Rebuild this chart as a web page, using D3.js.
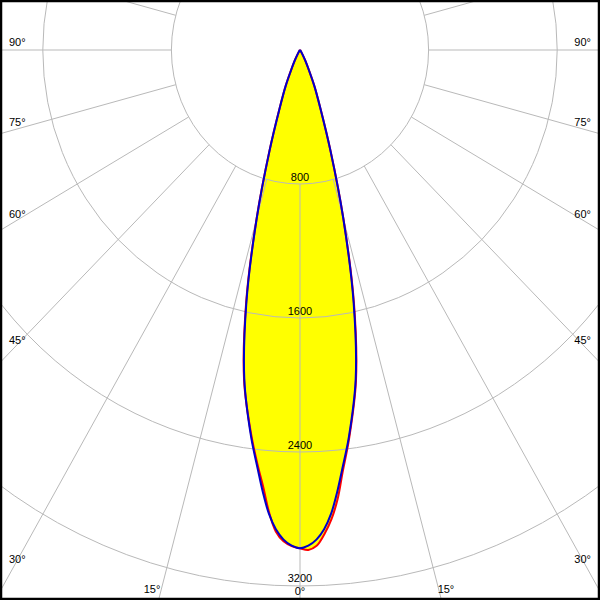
<!DOCTYPE html>
<html><head><meta charset="utf-8">
<script src="https://cdn.jsdelivr.net/npm/d3@7"></script>
<style>
body{margin:0;background:#fff}
svg{display:block}
text{font-family:"Liberation Sans",Arial,sans-serif;font-size:11px;fill:#000}
</style>
</head><body>
<svg id="chart" width="600" height="600"></svg>
<script>
// ---- data (cd) ----
const gammaAngles = [0,1,2,3,4,5,6,7.5,10,12.5,15,17.5,20,22.5,25,27.5,30,35,40,45,60,75,90];
// C90/C270 plane (blue), symmetric
const planeC90 = [2975,2960,2925,2865,2775,2650,2515,2330,1995,1540,1040,630,370,235,125,70,35,12,4,0,0,0,0];
// C0 plane (red, right half)
const planeC0  = [2975,2985,2962,2895,2808,2690,2535,2340,2005,1552,1045,632,372,236,126,70,35,12,4,0,0,0,0];
// C180 plane (red, left half)
const planeC180= [2975,2962,2935,2878,2765,2620,2500,2320,2003,1550,1045,632,372,236,126,70,35,12,4,0,0,0,0];
const ringValues = [800,1600,2400,3200];
const spokeAngles = [0,15,30,45,60,75,90,105];
const sideLabelAngles = [30,45,60,75,90];
const bottomLabelAngles = [15];

// ---- layout ----
const W = 600, H = 600, cx = 300, cy = 50;
const kx = d3.scaleLinear().domain([0,800]).range([0,128.6]);
const ky = d3.scaleLinear().domain([0,800]).range([0,134]);
const rad = d => d*Math.PI/180;
const px = (a,v) => cx + kx(v)*Math.sin(rad(a));
const py = (a,v) => cy + ky(v)*Math.cos(rad(a));

const svg = d3.select("#chart");
svg.append("defs").append("clipPath").attr("id","clip")
  .append("rect").attr("x",0).attr("y",0).attr("width",W).attr("height",H);
const g = svg.append("g").attr("clip-path","url(#clip)");

function seriesPoints(left, right){
  const pts = [];
  let startL = left.findIndex(v => v===0); if (startL<0) startL = left.length-1;
  for (let i=startL;i>=1;i--) pts.push([-gammaAngles[i], left[i]]);
  let endR = right.findIndex(v => v===0); if (endR<0) endR = right.length-1;
  for (let i=0;i<=endR;i++) pts.push([gammaAngles[i], right[i]]);
  return pts;
}
const line = d3.line().x(d=>px(d[0],d[1])).y(d=>py(d[0],d[1])).curve(d3.curveCatmullRom.alpha(0.5));
const redPts = seriesPoints(planeC180, planeC0);
const bluePts = seriesPoints(planeC90, planeC90);

// fills
g.append("path").attr("d", line(redPts)+"Z").attr("fill","#ffff00").attr("stroke","none");
g.append("path").attr("d", line(bluePts)+"Z").attr("fill","#ffff00").attr("stroke","none");

// grid rings
const gridColor = "#b9b9b9";
g.selectAll("ellipse.ring").data(ringValues).join("ellipse")
  .attr("cx",cx).attr("cy",cy).attr("rx",d=>kx(d)).attr("ry",d=>ky(d))
  .attr("fill","none").attr("stroke",gridColor).attr("stroke-width",1);

// spokes from first ring outwards, both sides
const spokeData = [];
spokeAngles.forEach(a => { spokeData.push(a); if (a!==0) spokeData.push(-a); });
g.selectAll("line.spoke").data(spokeData).join("line")
  .attr("x1",a=>px(a,ringValues[0])).attr("y1",a=>py(a,ringValues[0]))
  .attr("x2",a=>px(a,8000)).attr("y2",a=>py(a,8000))
  .attr("stroke",gridColor).attr("stroke-width",1);

// curves
g.append("path").attr("d", line(redPts)).attr("fill","none").attr("stroke","#ff0000").attr("stroke-width",2).attr("stroke-linejoin","round");
g.append("path").attr("d", line(bluePts)).attr("fill","none").attr("stroke","#0000cc").attr("stroke-width",2).attr("stroke-linejoin","round");

// ring labels
g.selectAll("text.rl").data(ringValues).join("text")
  .attr("x",cx).attr("y",d=>py(0,d)-(d===3200?4:3)).attr("text-anchor","middle").text(d=>d);

// side angle labels
const ratio = (ky(1)/kx(1));
function sideY(a){ const b = rad(a + (a-30)/37.5); return cy + 282*ratio*Math.cos(b)/Math.sin(b); }
sideLabelAngles.forEach(a=>{
  g.append("text").attr("x",9).attr("y",sideY(a)+4).text(a+"°");
  g.append("text").attr("x",591).attr("y",sideY(a)+4).attr("text-anchor","end").text(a+"°");
});
// bottom labels
const baseY = 593;
bottomLabelAngles.forEach(a=>{
  const dx = (baseY-cy)/ratio*Math.tan(rad(a));
  g.append("text").attr("x",cx-dx).attr("y",baseY).attr("text-anchor","end").text(a+"°");
  g.append("text").attr("x",cx+dx-2).attr("y",baseY).attr("text-anchor","start").text(a+"°");
});
g.append("text").attr("x",cx).attr("y",baseY+1.5).attr("text-anchor","middle").text("0°");

// frame
svg.append("rect").attr("x",1).attr("y",1).attr("width",W-2).attr("height",H-2)
  .attr("fill","none").attr("stroke","#000").attr("stroke-width",2.5);
</script>
</body></html>
